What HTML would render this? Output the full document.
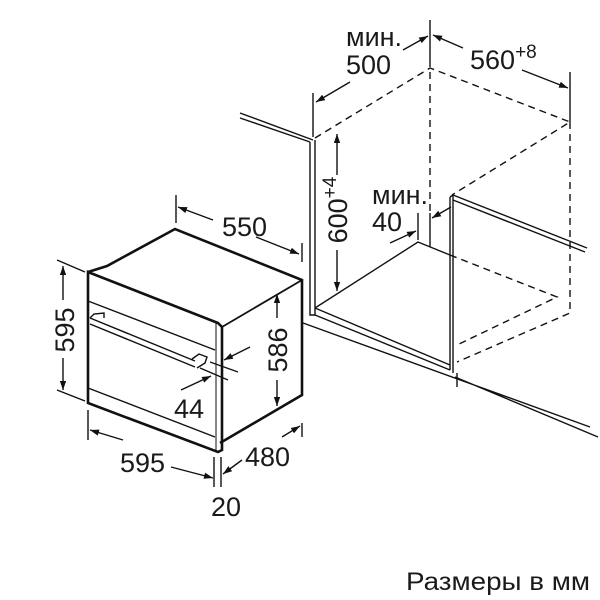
<!DOCTYPE html>
<html><head><meta charset="utf-8"><style>
html,body{margin:0;padding:0;background:#fff}
svg{display:block}
text{font-family:"Liberation Sans",Arial,sans-serif;fill:#1a1a1a}
</style></head><body>
<svg width="600" height="600" viewBox="0 0 600 600" xmlns="http://www.w3.org/2000/svg">
<defs>
<marker id="a" viewBox="0 0 10 10" refX="10" refY="5" markerWidth="9" markerHeight="9" orient="auto-start-reverse" markerUnits="userSpaceOnUse">
<path d="M0,1.5 L10,5 L0,8.5 z" fill="#111"/>
</marker>
</defs>
<g stroke="#111" fill="none" stroke-width="1.4">
<!-- Oven body -->
<path d="M88,272 L107,266 L175,229 L302,280 L302,395 L220,443" stroke-width="2.6"/>
<path d="M222,327 L302,280" stroke-width="1.8"/>
<path d="M88,272 L88,403 L218,452 L222,450 L222,327 L218,323 L88,272 z" stroke-width="2.6"/>
<path d="M216,323 L216,452" stroke-width="1"/>
<path d="M88,301 L215,350"/>
<path d="M90,318 L195,361 M90,324 L195,367"/>
<path d="M90,318 L94,314 L104,313 L104,318 M192,359 L199,354 L207,357 L205,363 L197,368"/>
<path d="M88,388 L215,437"/>
<!-- 595 left -->
<path d="M57,260 L85,272 M57,390 L85,401"/>
<path d="M63,300 L63,266" marker-end="url(#a)"/>
<path d="M63,358 L63,390" marker-end="url(#a)"/>
<!-- 550 -->
<path d="M176,195 L176,223 M302,243 L302,262"/>
<path d="M213,220 L178,207" marker-end="url(#a)"/>
<path d="M256,237 L299,254" marker-end="url(#a)"/>
<!-- 586 -->
<path d="M277,318 L277,294" marker-end="url(#a)"/>
<path d="M277,380 L277,406" marker-end="url(#a)"/>
<!-- 44 -->
<path d="M210,362 L238,372 M200,368 L228,380"/>
<path d="M250,347 L224,360" marker-end="url(#a)"/>
<path d="M181,390 L211,376" marker-end="url(#a)"/>
<!-- 595 bottom -->
<path d="M88,410 L88,440 M302,423 L302,437"/>
<path d="M123,440 L90,430" marker-end="url(#a)"/>
<path d="M171,467 L213,478" marker-end="url(#a)"/>
<!-- 20 / 480 -->
<path d="M214,457 L214,487 M221,457 L221,487"/>
<path d="M242,460 L223,474" marker-end="url(#a)"/>
<path d="M282,437 L300,426" marker-end="url(#a)"/>
<!-- Niche -->
<path d="M240,113 L313,140 M240,118 L310,142"/>
<path d="M310,142 L310,315 L315,315 L315,140"/>
<path d="M315,308 L450,365 M315,315 L450,370"/>
<path d="M303,323 L590,427 M455,377 L598,437"/>
<path d="M315,308 L418,242 L450,255"/>
<path d="M430,20 L430,60 M430,213 L430,247"/>
<path d="M450,197 L450,370 M453,195 L453,373 M450,197 L453,195"/>
<path d="M453,195 L587,248 M453,200 L585,252"/>
<path d="M457,373 L457,387"/>
<g stroke-dasharray="7,5">
<path d="M315,138 L430,68 L570,122 L452,195"/>
<path d="M430,60 L430,213"/>
<path d="M570,122 L570,313 L457,362"/>
<path d="M450,255 L557,297 L457,345"/>
</g>
<!-- 600+4 -->
<path d="M337,175 L337,134" marker-end="url(#a)"/>
<path d="M337,250 L337,291" marker-end="url(#a)"/>
<!-- мин 500 -->
<path d="M313,93 L313,137"/>
<path d="M350,82 L316,102" marker-end="url(#a)"/>
<path d="M403,50 L428,36" marker-end="url(#a)"/>
<!-- 560+8 -->
<path d="M570,72 L570,122"/>
<path d="M463,48 L433,35" marker-end="url(#a)"/>
<path d="M522,70 L568,88" marker-end="url(#a)"/>
<!-- мин 40 -->
<path d="M418,213 L418,240"/>
<path d="M390,243 L416,231" marker-end="url(#a)"/>
<path d="M451,207 L432,218" marker-end="url(#a)"/>
</g>
<g font-size="27">
<text x="222" y="236">550</text>
<text transform="translate(74,330) rotate(-90)" text-anchor="middle">595</text>
<text transform="translate(287,350) rotate(-90)" text-anchor="middle">586</text>
<text x="174" y="418">44</text>
<text x="120" y="472">595</text>
<text x="245" y="466">480</text>
<text x="211" y="516">20</text>
<text x="346" y="46">мин.</text>
<text x="346" y="74">500</text>
<text x="470" y="69">560<tspan font-size="19" dy="-11">+8</tspan></text>
<text transform="translate(347,210) rotate(-90)" text-anchor="middle">600<tspan font-size="19" dy="-11">+4</tspan></text>
<text x="372" y="204">мин.</text>
<text x="372" y="231">40</text>
<text x="406" y="590" font-size="25" textLength="184" lengthAdjust="spacingAndGlyphs">Размеры в мм</text>
</g>
</svg>
</body></html>
